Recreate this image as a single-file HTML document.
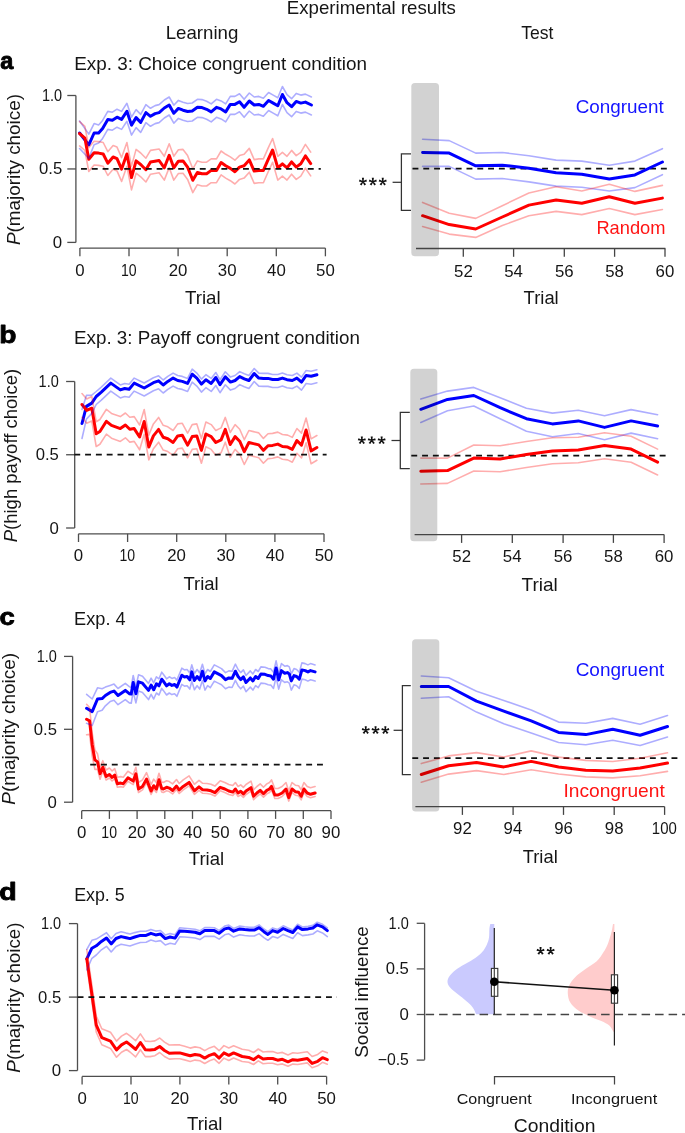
<!DOCTYPE html>
<html><head><meta charset="utf-8"><style>
html,body{margin:0;padding:0;background:#fff;}
svg{display:block;font-family:"Liberation Sans",sans-serif;will-change:transform;}
</style></head><body>
<svg width="685" height="1133" viewBox="0 0 685 1133">
<rect width="685" height="1133" fill="#fff"/>
<text transform="translate(286.77,13.9) scale(1.0377,1)" font-size="18" font-weight="normal" fill="#151515">Experimental results</text>
<text transform="translate(165.67,38.7) scale(1.0441,1)" font-size="17.9" font-weight="normal" fill="#151515">Learning</text>
<text transform="translate(521.31,38.7) scale(0.9802,1)" font-size="17.9" font-weight="normal" fill="#151515">Test</text>
<text transform="translate(0.36,68.62) scale(0.2344,0.2355)" font-size="100" font-weight="bold" fill="#000" stroke="#000" stroke-width="3.831" stroke-linejoin="round">a</text>
<text transform="translate(74.15,69.9) scale(1.0553,1)" font-size="17.9" font-weight="normal" fill="#151515">Exp. 3: Choice congruent condition</text>
<line x1="75.9" y1="95.5" x2="75.9" y2="242.4" stroke="#4e4e4e" stroke-width="1.3"/>
<line x1="67.3" y1="95.5" x2="75.9" y2="95.5" stroke="#4e4e4e" stroke-width="1.3"/>
<line x1="67.3" y1="168.95" x2="75.9" y2="168.95" stroke="#4e4e4e" stroke-width="1.3"/>
<line x1="67.3" y1="242.4" x2="75.9" y2="242.4" stroke="#4e4e4e" stroke-width="1.3"/>
<line x1="79.9" y1="248.1" x2="325.4" y2="248.1" stroke="#4e4e4e" stroke-width="1.3"/>
<line x1="79.9" y1="248.1" x2="79.9" y2="256.3" stroke="#4e4e4e" stroke-width="1.3"/>
<text transform="translate(75.23,276) scale(1.0377,1)" font-size="16.2" font-weight="normal" fill="#151515">0</text>
<line x1="129" y1="248.1" x2="129" y2="256.3" stroke="#4e4e4e" stroke-width="1.3"/>
<text transform="translate(120.91,276) scale(0.8685,1)" font-size="16.2" font-weight="normal" fill="#151515">10</text>
<line x1="178.1" y1="248.1" x2="178.1" y2="256.3" stroke="#4e4e4e" stroke-width="1.3"/>
<text transform="translate(168.66,276) scale(1.0377,1)" font-size="16.2" font-weight="normal" fill="#151515">20</text>
<line x1="227.2" y1="248.1" x2="227.2" y2="256.3" stroke="#4e4e4e" stroke-width="1.3"/>
<text transform="translate(217.86,276) scale(1.0377,1)" font-size="16.2" font-weight="normal" fill="#151515">30</text>
<line x1="276.3" y1="248.1" x2="276.3" y2="256.3" stroke="#4e4e4e" stroke-width="1.3"/>
<text transform="translate(267.09,276) scale(1.0377,1)" font-size="16.2" font-weight="normal" fill="#151515">40</text>
<line x1="325.4" y1="248.1" x2="325.4" y2="256.3" stroke="#4e4e4e" stroke-width="1.3"/>
<text transform="translate(316.04,276) scale(1.0377,1)" font-size="16.2" font-weight="normal" fill="#151515">50</text>
<text transform="translate(41.92,101) scale(0.8948,1)" font-size="16.2" font-weight="normal" fill="#151515">1.0</text>
<text transform="translate(39,174.45) scale(1.0302,1)" font-size="16.2" font-weight="normal" fill="#151515">0.5</text>
<text transform="translate(52.81,247.9) scale(1.0377,1)" font-size="16.2" font-weight="normal" fill="#151515">0</text>
<polyline points="79.6,133.0 88.8,144.8 94.1,133.0 98.6,133.0 102.6,128.4 107.8,119.4 112.4,120.2 117.0,117.2 121.6,119.4 126.9,111.3 131.5,125.1 136.1,117.6 140.7,122.4 145.9,112.6 150.5,116.3 155.1,113.6 159.1,112.6 164.3,108.0 169.2,105.0 173.8,113.2 178.4,108.4 183.0,110.2 187.6,111.5 192.2,111.0 197.4,107.3 202.0,107.6 206.6,109.3 211.2,111.9 216.5,107.3 221.1,108.9 225.7,111.9 230.3,104.4 234.9,104.4 239.5,101.8 244.1,107.3 249.3,101.0 254.2,105.0 258.8,104.4 263.4,106.3 268.6,100.5 273.2,103.1 277.8,105.8 282.4,94.5 287.0,102.7 291.6,106.7 296.2,101.4 300.8,103.1 305.4,102.1 311.4,105.0" fill="none" stroke="#0000ff" stroke-width="3.0" stroke-linejoin="round" stroke-linecap="round"/>
<polyline points="79.6,133.6 84.9,138.2 88.8,159.2 94.1,152.7 98.6,153.1 103.2,154.0 107.8,163.2 113.1,157.0 117.0,158.6 121.6,169.1 126.9,154.0 131.5,177.6 136.1,160.9 140.7,164.5 145.9,169.7 150.5,161.9 159.1,160.5 164.3,167.8 169.2,155.3 173.8,167.8 178.4,161.2 183.0,160.9 187.6,167.1 192.8,180.3 197.4,172.4 202.0,173.7 206.6,173.7 211.2,170.4 216.5,170.4 221.1,162.5 225.7,165.8 230.3,168.4 234.9,171.7 239.5,167.1 244.1,165.8 249.3,159.9 254.2,171.1 258.8,170.4 263.4,170.4 268.0,159.9 272.6,150.0 277.8,167.8 282.4,163.8 287.0,167.8 291.6,161.9 296.2,167.1 300.8,163.8 305.4,155.9 310.7,163.6" fill="none" stroke="#ff0000" stroke-width="3.0" stroke-linejoin="round" stroke-linecap="round"/>
<polyline points="79.6,121.0 88.8,134.1 94.1,123.6 98.6,125.0 102.6,120.4 107.8,111.4 112.4,112.2 117.0,109.2 121.6,111.4 126.9,103.3 131.5,117.1 136.1,109.6 140.7,114.4 145.9,104.6 150.5,108.3 155.1,105.6 159.1,104.6 164.3,100.0 169.2,97.0 173.8,105.2 178.4,100.4 183.0,102.2 187.6,103.5 192.2,103.0 197.4,99.3 202.0,99.6 206.6,101.3 211.2,103.9 216.5,99.3 221.1,100.9 225.7,103.9 230.3,96.4 234.9,96.4 239.5,93.8 244.1,99.3 249.3,93.0 254.2,97.0 258.8,96.4 263.4,98.3 268.6,92.5 273.2,95.1 277.8,97.8 282.4,86.5 287.0,94.7 291.6,98.7 296.2,93.4 300.8,95.1 305.4,94.1 311.4,97.0" fill="none" stroke="#0000ff" stroke-width="1.6" stroke-linejoin="round" stroke-linecap="round" stroke-opacity="0.32"/>
<polyline points="79.6,148.5 88.8,158.4 94.1,144.8 98.6,143.0 102.6,138.4 107.8,129.4 112.4,130.2 117.0,127.2 121.6,129.4 126.9,121.3 131.5,135.1 136.1,127.6 140.7,132.4 145.9,122.6 150.5,126.3 155.1,123.6 159.1,122.6 164.3,118.0 169.2,115.0 173.8,123.2 178.4,118.4 183.0,120.2 187.6,121.5 192.2,121.0 197.4,117.3 202.0,117.6 206.6,119.3 211.2,121.9 216.5,117.3 221.1,118.9 225.7,121.9 230.3,114.4 234.9,114.4 239.5,111.8 244.1,117.3 249.3,111.0 254.2,115.0 258.8,114.4 263.4,116.3 268.6,110.5 273.2,113.1 277.8,115.8 282.4,104.5 287.0,112.7 291.6,116.7 296.2,111.4 300.8,113.1 305.4,112.1 311.4,115.0" fill="none" stroke="#0000ff" stroke-width="1.6" stroke-linejoin="round" stroke-linecap="round" stroke-opacity="0.32"/>
<polyline points="79.6,121.6 84.9,126.4 88.8,147.6 94.1,141.2 98.6,141.6 103.2,142.5 107.8,151.7 113.1,145.5 117.0,147.1 121.6,157.6 126.9,142.5 131.5,166.1 136.1,149.4 140.7,153.0 145.9,158.2 150.5,150.4 159.1,149.0 164.3,156.3 169.2,143.8 173.8,156.3 178.4,149.7 183.0,149.4 187.6,155.6 192.8,168.8 197.4,160.9 202.0,162.2 206.6,162.2 211.2,158.9 216.5,158.9 221.1,151.0 225.7,154.3 230.3,156.9 234.9,160.2 239.5,155.6 244.1,154.3 249.3,148.4 254.2,159.6 258.8,158.9 263.4,158.9 268.0,148.4 272.6,138.5 277.8,156.3 282.4,152.3 287.0,156.3 291.6,150.4 296.2,155.6 300.8,152.3 305.4,144.4 310.7,152.1" fill="none" stroke="#ff0000" stroke-width="1.6" stroke-linejoin="round" stroke-linecap="round" stroke-opacity="0.32"/>
<polyline points="79.6,145.9 84.9,150.5 88.8,171.5 94.1,165.0 98.6,165.4 103.2,166.3 107.8,175.5 113.1,169.3 117.0,170.9 121.6,181.4 126.9,166.3 131.5,189.9 136.1,173.2 140.7,176.8 145.9,182.0 150.5,174.2 159.1,172.8 164.3,180.1 169.2,167.6 173.8,180.1 178.4,173.5 183.0,173.2 187.6,179.4 192.8,192.6 197.4,184.7 202.0,186.0 206.6,186.0 211.2,182.7 216.5,182.7 221.1,174.8 225.7,178.1 230.3,180.7 234.9,184.0 239.5,179.4 244.1,178.1 249.3,172.2 254.2,183.4 258.8,182.7 263.4,182.7 268.0,172.2 272.6,162.3 277.8,180.1 282.4,176.1 287.0,180.1 291.6,174.2 296.2,179.4 300.8,176.1 305.4,168.2 310.7,175.9" fill="none" stroke="#ff0000" stroke-width="1.6" stroke-linejoin="round" stroke-linecap="round" stroke-opacity="0.32"/>
<line x1="81" y1="168.9" x2="320.8" y2="168.9" stroke="#111" stroke-width="1.7" stroke-dasharray="5.9 4.9"/>
<text transform="translate(184.88,303.6) scale(1.0308,1)" font-size="18.2" font-weight="normal" fill="#151515">Trial</text>
<text transform="translate(19.8,245.05) rotate(-90) scale(1.0492,1)" font-size="18" fill="#151515"><tspan font-style="italic">P</tspan><tspan>(majority choice)</tspan></text>
<line x1="412.5" y1="168.6" x2="667.7" y2="168.6" stroke="#111" stroke-width="1.7" stroke-dasharray="5.9 4.9"/>
<polyline points="422.6,152.5 449.2,153.1 475.7,165.8 502.3,165.2 528.9,168.3 556.1,172.8 581.8,174.3 609.3,179.1 634.9,174.9 662.4,162.0" fill="none" stroke="#0000ff" stroke-width="3.0" stroke-linejoin="round" stroke-linecap="round"/>
<polyline points="422.6,215.7 449.2,224.6 475.7,229.0 502.3,217.0 528.9,205.1 556.1,200.0 581.8,203.2 609.3,196.7 634.9,203.2 662.4,198.1" fill="none" stroke="#ff0000" stroke-width="3.0" stroke-linejoin="round" stroke-linecap="round"/>
<polyline points="422.6,139.2 449.2,140.6 475.7,153.1 502.3,152.5 528.9,155.7 556.1,160.1 581.8,161.1 609.3,165.2 634.9,161.1 662.4,148.7" fill="none" stroke="#0000ff" stroke-width="1.6" stroke-linejoin="round" stroke-linecap="round" stroke-opacity="0.32"/>
<polyline points="422.6,166.4 449.2,166.4 475.7,179.1 502.3,178.5 528.9,181.9 556.1,186.1 581.8,187.3 609.3,191.0 634.9,187.6 662.4,174.7" fill="none" stroke="#0000ff" stroke-width="1.6" stroke-linejoin="round" stroke-linecap="round" stroke-opacity="0.32"/>
<polyline points="422.6,202.4 449.2,213.3 475.7,218.4 502.3,205.7 528.9,193.0 556.1,186.7 581.8,191.0 609.3,184.2 634.9,191.4 662.4,185.4" fill="none" stroke="#ff0000" stroke-width="1.6" stroke-linejoin="round" stroke-linecap="round" stroke-opacity="0.32"/>
<polyline points="422.6,226.5 449.2,234.1 475.7,237.4 502.3,225.6 528.9,215.7 556.1,211.4 581.8,214.6 609.3,208.5 634.9,214.6 662.4,209.5" fill="none" stroke="#ff0000" stroke-width="1.6" stroke-linejoin="round" stroke-linecap="round" stroke-opacity="0.32"/>
<rect x="411.3" y="83" width="27.7" height="173.3" rx="3.6" fill="#000" fill-opacity="0.175"/>
<line x1="416" y1="248.5" x2="665.4" y2="248.5" stroke="#444" stroke-width="1.3"/>
<line x1="463.3" y1="248.5" x2="463.3" y2="256.8" stroke="#444" stroke-width="1.3"/>
<text transform="translate(454.04,276.5) scale(1.0377,1)" font-size="16.2" font-weight="normal" fill="#151515">52</text>
<line x1="513.6" y1="248.5" x2="513.6" y2="256.8" stroke="#444" stroke-width="1.3"/>
<text transform="translate(504.16,276.5) scale(1.0377,1)" font-size="16.2" font-weight="normal" fill="#151515">54</text>
<line x1="564.3" y1="248.5" x2="564.3" y2="256.8" stroke="#444" stroke-width="1.3"/>
<text transform="translate(554.98,276.5) scale(1.0377,1)" font-size="16.2" font-weight="normal" fill="#151515">56</text>
<line x1="614.6" y1="248.5" x2="614.6" y2="256.8" stroke="#444" stroke-width="1.3"/>
<text transform="translate(605.28,276.5) scale(1.0377,1)" font-size="16.2" font-weight="normal" fill="#151515">58</text>
<line x1="665" y1="248.5" x2="665" y2="256.8" stroke="#444" stroke-width="1.3"/>
<text transform="translate(655.55,276.5) scale(1.0377,1)" font-size="16.2" font-weight="normal" fill="#151515">60</text>
<polyline points="411,153.8 401.4,153.8 401.4,210.4 411,210.4" fill="none" stroke="#333" stroke-width="1.25"/>
<line x1="392.6" y1="182.3" x2="401.4" y2="182.3" stroke="#333" stroke-width="1.25"/>
<path d="M363.50,181.75L364.00,177.85L361.90,177.85L362.40,181.75ZM363.12,182.27L366.98,181.54L366.33,179.55L362.78,181.23ZM362.51,182.07L364.39,185.52L366.09,184.29L363.39,181.43ZM362.51,181.43L359.81,184.29L361.51,185.52L363.39,182.07ZM363.12,181.23L359.57,179.55L358.92,181.54L362.78,182.27Z" fill="#111"/>
<path d="M373.40,181.75L373.90,177.85L371.80,177.85L372.30,181.75ZM373.02,182.27L376.88,181.54L376.23,179.55L372.68,181.23ZM372.41,182.07L374.29,185.52L375.99,184.29L373.29,181.43ZM372.41,181.43L369.71,184.29L371.41,185.52L373.29,182.07ZM373.02,181.23L369.47,179.55L368.82,181.54L372.68,182.27Z" fill="#111"/>
<path d="M383.30,181.75L383.80,177.85L381.70,177.85L382.20,181.75ZM382.92,182.27L386.78,181.54L386.13,179.55L382.58,181.23ZM382.31,182.07L384.19,185.52L385.89,184.29L383.19,181.43ZM382.31,181.43L379.61,184.29L381.31,185.52L383.19,182.07ZM382.92,181.23L379.37,179.55L378.72,181.54L382.58,182.27Z" fill="#111"/>
<text transform="translate(575.64,113.3) scale(1.0551,1)" font-size="17.9" font-weight="normal" fill="#1414ff">Congruent</text>
<text transform="translate(596.4,234.1) scale(1.0214,1)" font-size="17.9" font-weight="normal" fill="#ff1414">Random</text>
<text transform="translate(523.59,304) scale(1.0130,1)" font-size="18.2" font-weight="normal" fill="#151515">Trial</text>
<text transform="translate(-0.71,343.41) scale(0.2818,0.2465)" font-size="100" font-weight="bold" fill="#000" stroke="#000" stroke-width="3.407" stroke-linejoin="round">b</text>
<text transform="translate(74.06,344.4) scale(1.0503,1)" font-size="17.9" font-weight="normal" fill="#151515">Exp. 3: Payoff congruent condition</text>
<line x1="74.7" y1="381.5" x2="74.7" y2="528" stroke="#4e4e4e" stroke-width="1.3"/>
<line x1="66.1" y1="381.5" x2="74.7" y2="381.5" stroke="#4e4e4e" stroke-width="1.3"/>
<line x1="66.1" y1="454.75" x2="74.7" y2="454.75" stroke="#4e4e4e" stroke-width="1.3"/>
<line x1="66.1" y1="528" x2="74.7" y2="528" stroke="#4e4e4e" stroke-width="1.3"/>
<line x1="78.5" y1="533.8" x2="324" y2="533.8" stroke="#4e4e4e" stroke-width="1.3"/>
<line x1="78.5" y1="533.8" x2="78.5" y2="542" stroke="#4e4e4e" stroke-width="1.3"/>
<text transform="translate(73.83,561.3) scale(1.0377,1)" font-size="16.2" font-weight="normal" fill="#151515">0</text>
<line x1="127.6" y1="533.8" x2="127.6" y2="542" stroke="#4e4e4e" stroke-width="1.3"/>
<text transform="translate(119.51,561.3) scale(0.8685,1)" font-size="16.2" font-weight="normal" fill="#151515">10</text>
<line x1="176.7" y1="533.8" x2="176.7" y2="542" stroke="#4e4e4e" stroke-width="1.3"/>
<text transform="translate(167.26,561.3) scale(1.0377,1)" font-size="16.2" font-weight="normal" fill="#151515">20</text>
<line x1="225.8" y1="533.8" x2="225.8" y2="542" stroke="#4e4e4e" stroke-width="1.3"/>
<text transform="translate(216.46,561.3) scale(1.0377,1)" font-size="16.2" font-weight="normal" fill="#151515">30</text>
<line x1="274.9" y1="533.8" x2="274.9" y2="542" stroke="#4e4e4e" stroke-width="1.3"/>
<text transform="translate(265.69,561.3) scale(1.0377,1)" font-size="16.2" font-weight="normal" fill="#151515">40</text>
<line x1="324" y1="533.8" x2="324" y2="542" stroke="#4e4e4e" stroke-width="1.3"/>
<text transform="translate(314.64,561.3) scale(1.0377,1)" font-size="16.2" font-weight="normal" fill="#151515">50</text>
<text transform="translate(38.62,387) scale(0.8948,1)" font-size="16.2" font-weight="normal" fill="#151515">1.0</text>
<text transform="translate(35.7,460.25) scale(1.0302,1)" font-size="16.2" font-weight="normal" fill="#151515">0.5</text>
<text transform="translate(49.51,533.5) scale(1.0377,1)" font-size="16.2" font-weight="normal" fill="#151515">0</text>
<polyline points="82.0,423.5 86.4,406.4 91.8,403.1 96.2,396.5 101.3,392.1 110.8,383.1 120.3,389.9 124.7,388.5 129.1,389.2 134.2,383.1 144.2,388.0 153.4,382.7 158.6,380.8 163.2,385.0 167.8,381.4 173.1,378.1 177.7,380.5 182.3,381.4 187.6,383.4 192.2,374.2 196.8,378.1 201.4,384.1 205.9,379.7 211.2,383.4 215.8,377.5 220.0,384.7 225.3,376.8 230.5,382.1 235.1,380.5 239.7,376.6 244.3,378.8 248.9,380.5 254.2,373.5 258.8,378.1 263.4,378.4 268.0,378.4 272.6,379.5 277.8,379.5 282.4,378.1 287.0,379.7 292.3,380.5 296.9,378.1 301.5,382.1 306.1,375.5 311.1,376.2 316.9,374.7" fill="none" stroke="#0000ff" stroke-width="3.0" stroke-linejoin="round" stroke-linecap="round"/>
<polyline points="82.0,404.5 86.7,410.4 91.8,408.2 96.2,433.7 99.9,431.5 106.4,421.3 111.5,425.4 120.3,428.6 125.4,425.0 129.8,429.3 134.2,428.6 139.6,437.0 144.2,421.5 148.8,447.1 153.4,435.9 158.6,429.4 163.2,437.3 167.8,438.8 173.1,442.5 177.7,435.9 182.3,435.3 187.6,445.1 192.2,436.6 196.8,435.9 201.4,450.4 205.9,434.0 211.2,436.6 215.8,442.5 221.1,439.9 225.3,429.4 230.2,444.5 235.1,436.6 239.7,441.2 244.3,451.7 248.9,442.5 253.5,443.6 258.8,444.9 263.4,450.4 268.0,445.8 272.6,445.4 277.8,444.1 282.4,446.5 287.7,447.1 292.3,449.4 296.9,440.5 301.5,445.1 306.1,430.0 311.1,450.9 316.9,447.5" fill="none" stroke="#ff0000" stroke-width="3.0" stroke-linejoin="round" stroke-linecap="round"/>
<polyline points="82.0,409.5 86.4,395.4 91.8,395.1 96.2,391.5 101.3,387.1 110.8,378.1 120.3,384.9 124.7,383.5 129.1,384.2 134.2,378.1 144.2,383.0 153.4,377.7 158.6,375.8 163.2,380.0 167.8,376.4 173.1,373.1 177.7,375.5 182.3,376.4 187.6,378.4 192.2,369.2 196.8,373.1 201.4,379.1 205.9,374.7 211.2,378.4 215.8,372.5 220.0,379.7 225.3,371.8 230.5,377.1 235.1,375.5 239.7,371.6 244.3,373.8 248.9,375.5 254.2,368.5 258.8,373.1 263.4,373.4 268.0,373.4 272.6,374.5 277.8,374.5 282.4,373.1 287.0,374.7 292.3,375.5 296.9,373.1 301.5,377.1 306.1,370.5 311.1,371.2 316.9,369.7" fill="none" stroke="#0000ff" stroke-width="1.6" stroke-linejoin="round" stroke-linecap="round" stroke-opacity="0.32"/>
<polyline points="82.0,438.5 86.4,419.1 91.8,413.4 96.2,404.5 101.3,400.1 110.8,391.1 120.3,397.9 124.7,396.5 129.1,397.2 134.2,391.1 144.2,396.0 153.4,390.7 158.6,388.8 163.2,393.0 167.8,389.4 173.1,386.1 177.7,388.5 182.3,389.4 187.6,391.4 192.2,382.2 196.8,386.1 201.4,392.1 205.9,387.7 211.2,391.4 215.8,385.5 220.0,392.7 225.3,384.8 230.5,390.1 235.1,388.5 239.7,384.6 244.3,386.8 248.9,388.5 254.2,381.5 258.8,386.1 263.4,386.4 268.0,386.4 272.6,387.5 277.8,387.5 282.4,386.1 287.0,387.7 292.3,388.5 296.9,386.1 301.5,390.1 306.1,383.5 311.1,384.2 316.9,382.7" fill="none" stroke="#0000ff" stroke-width="1.6" stroke-linejoin="round" stroke-linecap="round" stroke-opacity="0.32"/>
<polyline points="82.0,393.5 86.7,399.0 91.8,396.5 96.2,421.7 99.9,419.5 106.4,409.3 111.5,413.4 120.3,416.6 125.4,413.0 129.8,417.3 134.2,416.6 139.6,425.0 144.2,409.5 148.8,435.1 153.4,423.9 158.6,417.4 163.2,425.3 167.8,426.8 173.1,430.5 177.7,423.9 182.3,423.3 187.6,433.1 192.2,424.6 196.8,423.9 201.4,438.4 205.9,422.0 211.2,424.6 215.8,430.5 221.1,427.9 225.3,417.4 230.2,432.5 235.1,424.6 239.7,429.2 244.3,439.7 248.9,430.5 253.5,431.6 258.8,432.9 263.4,438.4 268.0,433.8 272.6,433.4 277.8,432.1 282.4,434.5 287.7,435.1 292.3,437.4 296.9,428.5 301.5,433.1 306.1,418.0 311.1,438.9 316.9,435.5" fill="none" stroke="#ff0000" stroke-width="1.6" stroke-linejoin="round" stroke-linecap="round" stroke-opacity="0.32"/>
<polyline points="82.0,417.3 86.7,423.2 91.8,421.0 96.2,446.5 99.9,444.3 106.4,434.1 111.5,438.2 120.3,441.4 125.4,437.8 129.8,442.1 134.2,441.4 139.6,449.8 144.2,434.3 148.8,459.9 153.4,448.7 158.6,442.2 163.2,450.1 167.8,451.6 173.1,455.3 177.7,448.7 182.3,448.1 187.6,457.9 192.2,449.4 196.8,448.7 201.4,463.2 205.9,446.8 211.2,449.4 215.8,455.3 221.1,452.7 225.3,442.2 230.2,457.3 235.1,449.4 239.7,454.0 244.3,464.5 248.9,455.3 253.5,456.4 258.8,457.7 263.4,463.2 268.0,458.6 272.6,458.2 277.8,456.9 282.4,459.3 287.7,459.9 292.3,462.2 296.9,453.3 301.5,457.9 306.1,442.8 311.1,463.7 316.9,460.3" fill="none" stroke="#ff0000" stroke-width="1.6" stroke-linejoin="round" stroke-linecap="round" stroke-opacity="0.32"/>
<line x1="74.3" y1="454.7" x2="326.6" y2="454.7" stroke="#111" stroke-width="1.7" stroke-dasharray="5.9 4.9"/>
<text transform="translate(183.48,589.6) scale(1.0160,1)" font-size="18.2" font-weight="normal" fill="#151515">Trial</text>
<text transform="translate(16.8,542.32) rotate(-90) scale(1.0276,1)" font-size="18" fill="#151515"><tspan font-style="italic">P</tspan><tspan>(high payoff choice)</tspan></text>
<line x1="411.3" y1="455.6" x2="666.8" y2="455.6" stroke="#111" stroke-width="1.7" stroke-dasharray="5.9 4.9"/>
<polyline points="420.8,409.3 447.5,399.4 473.8,395.5 500.1,407.7 526.4,418.7 552.4,423.9 578.3,420.9 604.5,427.4 631.1,420.9 657.6,426.0" fill="none" stroke="#0000ff" stroke-width="3.0" stroke-linejoin="round" stroke-linecap="round"/>
<polyline points="420.8,471.2 447.5,470.6 473.8,458.1 500.1,459.0 526.4,454.6 552.4,451.1 578.3,449.9 604.5,445.4 631.1,449.1 657.6,462.2" fill="none" stroke="#ff0000" stroke-width="3.0" stroke-linejoin="round" stroke-linecap="round"/>
<polyline points="420.8,399.0 447.5,391.1 473.8,387.4 500.1,397.7 526.4,408.2 552.4,413.1 578.3,410.2 604.5,415.8 631.1,409.6 657.6,414.7" fill="none" stroke="#0000ff" stroke-width="1.6" stroke-linejoin="round" stroke-linecap="round" stroke-opacity="0.32"/>
<polyline points="420.8,422.4 447.5,410.8 473.8,406.0 500.1,418.7 526.4,431.2 552.4,436.8 578.3,433.5 604.5,439.7 631.1,433.1 657.6,438.7" fill="none" stroke="#0000ff" stroke-width="1.6" stroke-linejoin="round" stroke-linecap="round" stroke-opacity="0.32"/>
<polyline points="420.8,458.1 447.5,458.1 473.8,445.0 500.1,445.8 526.4,441.5 552.4,437.8 578.3,437.2 604.5,432.7 631.1,436.2 657.6,449.1" fill="none" stroke="#ff0000" stroke-width="1.6" stroke-linejoin="round" stroke-linecap="round" stroke-opacity="0.32"/>
<polyline points="420.8,484.0 447.5,483.4 473.8,471.0 500.1,471.8 526.4,467.5 552.4,463.8 578.3,462.8 604.5,458.7 631.1,462.2 657.6,475.0" fill="none" stroke="#ff0000" stroke-width="1.6" stroke-linejoin="round" stroke-linecap="round" stroke-opacity="0.32"/>
<rect x="410.3" y="368.8" width="27" height="172.5" rx="3.6" fill="#000" fill-opacity="0.175"/>
<line x1="414.6" y1="534.6" x2="664.1" y2="534.6" stroke="#444" stroke-width="1.3"/>
<line x1="461.6" y1="534.6" x2="461.6" y2="542.9" stroke="#444" stroke-width="1.3"/>
<text transform="translate(452.34,562.2) scale(1.0377,1)" font-size="16.2" font-weight="normal" fill="#151515">52</text>
<line x1="512.3" y1="534.6" x2="512.3" y2="542.9" stroke="#444" stroke-width="1.3"/>
<text transform="translate(502.86,562.2) scale(1.0377,1)" font-size="16.2" font-weight="normal" fill="#151515">54</text>
<line x1="563.1" y1="534.6" x2="563.1" y2="542.9" stroke="#444" stroke-width="1.3"/>
<text transform="translate(553.78,562.2) scale(1.0377,1)" font-size="16.2" font-weight="normal" fill="#151515">56</text>
<line x1="613.4" y1="534.6" x2="613.4" y2="542.9" stroke="#444" stroke-width="1.3"/>
<text transform="translate(604.08,562.2) scale(1.0377,1)" font-size="16.2" font-weight="normal" fill="#151515">58</text>
<line x1="664.1" y1="534.6" x2="664.1" y2="542.9" stroke="#444" stroke-width="1.3"/>
<text transform="translate(654.65,562.2) scale(1.0377,1)" font-size="16.2" font-weight="normal" fill="#151515">60</text>
<polyline points="409.8,412.3 400.3,412.3 400.3,468.7 409.8,468.7" fill="none" stroke="#333" stroke-width="1.25"/>
<line x1="391.5" y1="440.5" x2="400.3" y2="440.5" stroke="#333" stroke-width="1.25"/>
<path d="M362.40,440.35L362.90,436.45L360.80,436.45L361.30,440.35ZM362.02,440.87L365.88,440.14L365.23,438.15L361.68,439.83ZM361.41,440.67L363.29,444.12L364.99,442.89L362.29,440.03ZM361.41,440.03L358.71,442.89L360.41,444.12L362.29,440.67ZM362.02,439.83L358.47,438.15L357.82,440.14L361.68,440.87Z" fill="#111"/>
<path d="M372.30,440.35L372.80,436.45L370.70,436.45L371.20,440.35ZM371.92,440.87L375.78,440.14L375.13,438.15L371.58,439.83ZM371.31,440.67L373.19,444.12L374.89,442.89L372.19,440.03ZM371.31,440.03L368.61,442.89L370.31,444.12L372.19,440.67ZM371.92,439.83L368.37,438.15L367.72,440.14L371.58,440.87Z" fill="#111"/>
<path d="M382.20,440.35L382.70,436.45L380.60,436.45L381.10,440.35ZM381.82,440.87L385.68,440.14L385.03,438.15L381.48,439.83ZM381.21,440.67L383.09,444.12L384.79,442.89L382.09,440.03ZM381.21,440.03L378.51,442.89L380.21,444.12L382.09,440.67ZM381.82,439.83L378.27,438.15L377.62,440.14L381.48,440.87Z" fill="#111"/>
<text transform="translate(521.47,590.7) scale(1.0456,1)" font-size="18.2" font-weight="normal" fill="#151515">Trial</text>
<text transform="translate(-0.62,624.82) scale(0.2747,0.2318)" font-size="100" font-weight="bold" fill="#000" stroke="#000" stroke-width="3.554" stroke-linejoin="round">c</text>
<text transform="translate(74.11,624.9) scale(1.0153,1)" font-size="17.9" font-weight="normal" fill="#151515">Exp. 4</text>
<line x1="72.6" y1="656.4" x2="72.6" y2="802.2" stroke="#4e4e4e" stroke-width="1.3"/>
<line x1="64" y1="656.4" x2="72.6" y2="656.4" stroke="#4e4e4e" stroke-width="1.3"/>
<line x1="64" y1="729.3" x2="72.6" y2="729.3" stroke="#4e4e4e" stroke-width="1.3"/>
<line x1="64" y1="802.2" x2="72.6" y2="802.2" stroke="#4e4e4e" stroke-width="1.3"/>
<line x1="81.7" y1="810.7" x2="331" y2="810.7" stroke="#4e4e4e" stroke-width="1.3"/>
<line x1="81.7" y1="810.7" x2="81.7" y2="818.9" stroke="#4e4e4e" stroke-width="1.3"/>
<text transform="translate(77.03,838) scale(1.0377,1)" font-size="16.2" font-weight="normal" fill="#151515">0</text>
<line x1="109.4" y1="810.7" x2="109.4" y2="818.9" stroke="#4e4e4e" stroke-width="1.3"/>
<text transform="translate(101.31,838) scale(0.8685,1)" font-size="16.2" font-weight="normal" fill="#151515">10</text>
<line x1="137.1" y1="810.7" x2="137.1" y2="818.9" stroke="#4e4e4e" stroke-width="1.3"/>
<text transform="translate(127.66,838) scale(1.0377,1)" font-size="16.2" font-weight="normal" fill="#151515">20</text>
<line x1="164.8" y1="810.7" x2="164.8" y2="818.9" stroke="#4e4e4e" stroke-width="1.3"/>
<text transform="translate(155.46,838) scale(1.0377,1)" font-size="16.2" font-weight="normal" fill="#151515">30</text>
<line x1="192.5" y1="810.7" x2="192.5" y2="818.9" stroke="#4e4e4e" stroke-width="1.3"/>
<text transform="translate(183.29,838) scale(1.0377,1)" font-size="16.2" font-weight="normal" fill="#151515">40</text>
<line x1="220.2" y1="810.7" x2="220.2" y2="818.9" stroke="#4e4e4e" stroke-width="1.3"/>
<text transform="translate(210.84,838) scale(1.0377,1)" font-size="16.2" font-weight="normal" fill="#151515">50</text>
<line x1="247.9" y1="810.7" x2="247.9" y2="818.9" stroke="#4e4e4e" stroke-width="1.3"/>
<text transform="translate(238.45,838) scale(1.0377,1)" font-size="16.2" font-weight="normal" fill="#151515">60</text>
<line x1="275.6" y1="810.7" x2="275.6" y2="818.9" stroke="#4e4e4e" stroke-width="1.3"/>
<text transform="translate(266.15,838) scale(1.0377,1)" font-size="16.2" font-weight="normal" fill="#151515">70</text>
<line x1="303.3" y1="810.7" x2="303.3" y2="818.9" stroke="#4e4e4e" stroke-width="1.3"/>
<text transform="translate(293.91,838) scale(1.0377,1)" font-size="16.2" font-weight="normal" fill="#151515">80</text>
<line x1="331" y1="810.7" x2="331" y2="818.9" stroke="#4e4e4e" stroke-width="1.3"/>
<text transform="translate(321.58,838) scale(1.0377,1)" font-size="16.2" font-weight="normal" fill="#151515">90</text>
<text transform="translate(36.72,661.9) scale(0.8948,1)" font-size="16.2" font-weight="normal" fill="#151515">1.0</text>
<text transform="translate(33.8,734.8) scale(1.0302,1)" font-size="16.2" font-weight="normal" fill="#151515">0.5</text>
<text transform="translate(47.61,807.7) scale(1.0377,1)" font-size="16.2" font-weight="normal" fill="#151515">0</text>
<polyline points="86.6,708.3 92.2,711.6 97.5,699.0 102.1,698.6 105.4,695.5 110.1,692.4 114.0,691.1 118.0,695.5 125.3,690.4 129.3,693.7 131.2,694.1 133.2,682.5 135.9,693.7 138.5,681.8 142.5,683.2 148.5,690.4 151.1,685.1 153.7,689.8 156.4,683.8 159.0,685.8 161.7,679.2 163.3,681.2 166.6,685.8 169.3,683.8 171.9,685.4 174.6,684.5 176.9,687.1 181.8,675.2 184.5,676.9 187.1,676.5 189.8,679.9 191.8,671.9 194.4,680.5 197.1,676.5 199.7,679.9 202.4,671.2 205.0,680.9 207.6,676.5 210.3,678.5 214.3,671.9 218.2,673.9 221.5,675.6 225.5,679.6 228.8,677.9 232.1,678.3 235.4,671.2 238.1,676.5 240.7,679.6 243.4,676.9 246.0,682.5 250.3,677.9 252.9,680.9 255.6,676.5 258.2,678.5 260.9,673.9 264.9,674.3 268.2,675.6 270.8,675.9 273.5,679.2 276.1,667.9 278.7,679.9 281.4,670.6 284.7,673.2 287.4,672.6 289.3,673.9 291.3,680.9 294.0,675.6 296.6,676.5 299.3,679.2 301.9,669.9 305.2,670.6 307.9,671.9 310.5,670.6 315.1,671.9" fill="none" stroke="#0000ff" stroke-width="3.0" stroke-linejoin="round" stroke-linecap="round"/>
<polyline points="86.6,719.3 89.6,720.9 92.2,744.7 94.9,759.9 97.5,761.9 100.1,773.8 102.8,767.2 106.1,776.5 109.4,774.5 112.1,777.5 114.7,775.1 117.4,783.7 120.7,783.1 123.3,783.7 127.9,777.8 133.2,781.1 135.9,773.8 138.5,789.0 142.5,786.4 146.5,779.1 151.1,791.0 153.7,785.7 156.4,789.0 159.0,779.8 161.7,788.4 163.3,789.0 166.6,787.3 169.3,788.1 172.6,790.4 176.5,786.0 179.2,790.0 183.2,786.4 189.1,782.4 194.4,790.8 199.0,786.8 202.4,789.7 207.0,790.0 211.0,790.8 214.9,792.6 220.2,787.3 224.8,789.0 228.8,791.0 232.8,792.1 235.4,789.0 238.1,793.0 240.7,791.3 243.4,793.9 246.0,791.0 251.0,787.7 253.6,796.3 256.9,793.0 260.2,790.4 263.5,793.7 266.8,790.4 269.5,789.0 271.5,786.4 274.8,795.0 278.1,795.0 282.1,793.0 286.0,789.0 288.7,797.6 292.0,789.0 295.3,791.7 298.6,792.3 301.2,796.3 303.9,789.0 307.2,793.0 310.5,794.3 315.1,793.0" fill="none" stroke="#ff0000" stroke-width="3.0" stroke-linejoin="round" stroke-linecap="round"/>
<polyline points="86.6,694.3 92.2,699.0 97.5,687.8 102.1,688.8 105.4,687.1 110.1,685.4 114.0,684.1 118.0,688.5 125.3,683.4 129.3,686.7 131.2,687.1 133.2,675.5 135.9,686.7 138.5,674.8 142.5,676.2 148.5,683.4 151.1,678.1 153.7,682.8 156.4,676.8 159.0,678.8 161.7,672.2 163.3,674.2 166.6,678.8 169.3,676.8 171.9,678.4 174.6,677.5 176.9,680.1 181.8,668.2 184.5,669.9 187.1,669.5 189.8,672.9 191.8,664.9 194.4,673.5 197.1,669.5 199.7,672.9 202.4,664.2 205.0,673.9 207.6,669.5 210.3,671.5 214.3,664.9 218.2,666.9 221.5,668.6 225.5,672.6 228.8,670.9 232.1,671.3 235.4,664.2 238.1,669.5 240.7,672.6 243.4,669.9 246.0,675.5 250.3,670.9 252.9,673.9 255.6,669.5 258.2,671.5 260.9,666.9 264.9,667.3 268.2,668.6 270.8,668.9 273.5,672.2 276.1,660.9 278.7,672.9 281.4,663.6 284.7,666.2 287.4,665.6 289.3,666.9 291.3,673.9 294.0,668.6 296.6,669.5 299.3,672.2 301.9,662.9 305.2,663.6 307.9,664.9 310.5,663.6 315.1,664.9" fill="none" stroke="#0000ff" stroke-width="1.6" stroke-linejoin="round" stroke-linecap="round" stroke-opacity="0.32"/>
<polyline points="86.6,723.3 92.2,725.5 97.5,711.7 102.1,710.2 105.4,705.8 110.1,701.6 114.0,700.3 118.0,704.7 125.3,699.6 129.3,702.9 131.2,703.3 133.2,691.7 135.9,702.9 138.5,691.0 142.5,692.4 148.5,699.6 151.1,694.3 153.7,699.0 156.4,693.0 159.0,695.0 161.7,688.4 163.3,690.4 166.6,695.0 169.3,693.0 171.9,694.6 174.6,693.7 176.9,696.3 181.8,684.4 184.5,686.1 187.1,685.7 189.8,689.1 191.8,681.1 194.4,689.7 197.1,685.7 199.7,689.1 202.4,680.4 205.0,690.1 207.6,685.7 210.3,687.7 214.3,681.1 218.2,683.1 221.5,684.8 225.5,688.8 228.8,687.1 232.1,687.5 235.4,680.4 238.1,685.7 240.7,688.8 243.4,686.1 246.0,691.7 250.3,687.1 252.9,690.1 255.6,685.7 258.2,687.7 260.9,683.1 264.9,683.5 268.2,684.8 270.8,685.1 273.5,688.4 276.1,677.1 278.7,689.1 281.4,679.8 284.7,682.4 287.4,681.8 289.3,683.1 291.3,690.1 294.0,684.8 296.6,685.7 299.3,688.4 301.9,679.1 305.2,679.8 307.9,681.1 310.5,679.8 315.1,681.1" fill="none" stroke="#0000ff" stroke-width="1.6" stroke-linejoin="round" stroke-linecap="round" stroke-opacity="0.32"/>
<polyline points="86.6,704.3 89.6,707.6 92.2,733.1 94.9,750.0 97.5,753.7 100.1,767.3 102.8,760.7 106.1,770.0 109.4,768.0 112.1,771.0 114.7,768.6 117.4,777.2 120.7,776.6 123.3,777.2 127.9,771.3 133.2,774.6 135.9,767.3 138.5,782.5 142.5,779.9 146.5,772.6 151.1,784.5 153.7,779.2 156.4,782.5 159.0,773.3 161.7,781.9 163.3,782.5 166.6,780.8 169.3,781.6 172.6,783.9 176.5,779.5 179.2,783.5 183.2,779.9 189.1,775.9 194.4,784.3 199.0,780.3 202.4,783.2 207.0,783.5 211.0,784.3 214.9,786.1 220.2,780.8 224.8,782.5 228.8,784.5 232.8,785.6 235.4,782.5 238.1,786.5 240.7,784.8 243.4,787.4 246.0,784.5 251.0,781.2 253.6,789.8 256.9,786.5 260.2,783.9 263.5,787.2 266.8,783.9 269.5,782.5 271.5,779.9 274.8,788.5 278.1,788.5 282.1,786.5 286.0,782.5 288.7,791.1 292.0,782.5 295.3,785.2 298.6,785.8 301.2,789.8 303.9,782.5 307.2,786.5 310.5,787.8 315.1,786.5" fill="none" stroke="#ff0000" stroke-width="1.6" stroke-linejoin="round" stroke-linecap="round" stroke-opacity="0.32"/>
<polyline points="86.6,734.8 89.6,734.4 92.2,756.2 94.9,769.4 97.5,769.4 100.1,779.3 102.8,770.7 106.1,780.0 109.4,778.0 112.1,781.0 114.7,778.6 117.4,787.2 120.7,786.6 123.3,787.2 127.9,781.3 133.2,784.6 135.9,777.3 138.5,792.5 142.5,789.9 146.5,782.6 151.1,794.5 153.7,789.2 156.4,792.5 159.0,783.3 161.7,791.9 163.3,792.5 166.6,790.8 169.3,791.6 172.6,793.9 176.5,789.5 179.2,793.5 183.2,789.9 189.1,785.9 194.4,794.3 199.0,790.3 202.4,793.2 207.0,793.5 211.0,794.3 214.9,796.1 220.2,790.8 224.8,792.5 228.8,794.5 232.8,795.6 235.4,792.5 238.1,796.5 240.7,794.8 243.4,797.4 246.0,794.5 251.0,791.2 253.6,799.8 256.9,796.5 260.2,793.9 263.5,797.2 266.8,793.9 269.5,792.5 271.5,789.9 274.8,798.5 278.1,798.5 282.1,796.5 286.0,792.5 288.7,801.1 292.0,792.5 295.3,795.2 298.6,795.8 301.2,799.8 303.9,792.5 307.2,796.5 310.5,797.8 315.1,796.5" fill="none" stroke="#ff0000" stroke-width="1.6" stroke-linejoin="round" stroke-linecap="round" stroke-opacity="0.32"/>
<line x1="90.2" y1="764.6" x2="323.7" y2="764.6" stroke="#111" stroke-width="1.7" stroke-dasharray="5.9 4.9"/>
<text transform="translate(188.78,864.9) scale(1.0189,1)" font-size="18.2" font-weight="normal" fill="#151515">Trial</text>
<text transform="translate(14.6,804.76) rotate(-90) scale(1.0548,1)" font-size="18" fill="#151515"><tspan font-style="italic">P</tspan><tspan>(majority choice)</tspan></text>
<line x1="412.3" y1="758.1" x2="678.4" y2="758.1" stroke="#111" stroke-width="1.7" stroke-dasharray="5.9 4.9"/>
<polyline points="421.3,686.5 448.6,686.5 476.5,701.2 503.8,711.2 531.2,720.9 558.6,732.4 585.8,734.6 612.7,729.3 640.1,735.2 667.5,726.5" fill="none" stroke="#0000ff" stroke-width="3.0" stroke-linejoin="round" stroke-linecap="round"/>
<polyline points="421.3,774.5 448.6,765.8 476.5,762.5 503.8,766.9 531.2,761.4 558.6,767.0 585.8,770.3 612.7,770.9 640.1,768.1 667.5,763.1" fill="none" stroke="#ff0000" stroke-width="3.0" stroke-linejoin="round" stroke-linecap="round"/>
<polyline points="421.3,676.0 448.6,677.7 476.5,691.3 503.8,700.5 531.2,709.9 558.6,722.1 585.8,723.2 612.7,718.4 640.1,724.3 667.5,715.5" fill="none" stroke="#0000ff" stroke-width="1.6" stroke-linejoin="round" stroke-linecap="round" stroke-opacity="0.32"/>
<polyline points="421.3,698.3 448.6,696.8 476.5,712.1 503.8,723.7 531.2,732.9 558.6,742.5 585.8,744.7 612.7,740.3 640.1,745.5 667.5,737.0" fill="none" stroke="#0000ff" stroke-width="1.6" stroke-linejoin="round" stroke-linecap="round" stroke-opacity="0.32"/>
<polyline points="421.3,763.6 448.6,755.9 476.5,752.6 503.8,757.0 531.2,750.9 558.6,757.1 585.8,760.4 612.7,761.5 640.1,758.2 667.5,752.8" fill="none" stroke="#ff0000" stroke-width="1.6" stroke-linejoin="round" stroke-linecap="round" stroke-opacity="0.32"/>
<polyline points="421.3,782.2 448.6,774.1 476.5,770.6 503.8,774.5 531.2,769.7 558.6,774.0 585.8,776.9 612.7,777.9 640.1,775.8 667.5,771.4" fill="none" stroke="#ff0000" stroke-width="1.6" stroke-linejoin="round" stroke-linecap="round" stroke-opacity="0.32"/>
<rect x="412.1" y="639.2" width="27.2" height="172.4" rx="3.6" fill="#000" fill-opacity="0.175"/>
<line x1="415.4" y1="806.6" x2="664.6" y2="806.6" stroke="#444" stroke-width="1.3"/>
<line x1="462.4" y1="806.6" x2="462.4" y2="814.9" stroke="#444" stroke-width="1.3"/>
<text transform="translate(453.08,834.3) scale(1.0377,1)" font-size="16.2" font-weight="normal" fill="#151515">92</text>
<line x1="513.1" y1="806.6" x2="513.1" y2="814.9" stroke="#444" stroke-width="1.3"/>
<text transform="translate(503.6,834.3) scale(1.0377,1)" font-size="16.2" font-weight="normal" fill="#151515">94</text>
<line x1="563.5" y1="806.6" x2="563.5" y2="814.9" stroke="#444" stroke-width="1.3"/>
<text transform="translate(554.13,834.3) scale(1.0377,1)" font-size="16.2" font-weight="normal" fill="#151515">96</text>
<line x1="614.2" y1="806.6" x2="614.2" y2="814.9" stroke="#444" stroke-width="1.3"/>
<text transform="translate(604.82,834.3) scale(1.0377,1)" font-size="16.2" font-weight="normal" fill="#151515">98</text>
<line x1="664.6" y1="806.6" x2="664.6" y2="814.9" stroke="#444" stroke-width="1.3"/>
<text transform="translate(651.82,834.3) scale(0.9249,1)" font-size="16.2" font-weight="normal" fill="#151515">100</text>
<polyline points="410.8,685.6 402.4,685.6 402.4,774.5 410.8,774.5" fill="none" stroke="#333" stroke-width="1.25"/>
<line x1="393.6" y1="730.3" x2="402.4" y2="730.3" stroke="#333" stroke-width="1.25"/>
<path d="M366.30,730.25L366.80,726.35L364.70,726.35L365.20,730.25ZM365.92,730.77L369.78,730.04L369.13,728.05L365.58,729.73ZM365.31,730.57L367.19,734.02L368.89,732.79L366.19,729.93ZM365.31,729.93L362.61,732.79L364.31,734.02L366.19,730.57ZM365.92,729.73L362.37,728.05L361.72,730.04L365.58,730.77Z" fill="#111"/>
<path d="M376.10,730.25L376.60,726.35L374.50,726.35L375.00,730.25ZM375.72,730.77L379.58,730.04L378.93,728.05L375.38,729.73ZM375.11,730.57L376.99,734.02L378.69,732.79L375.99,729.93ZM375.11,729.93L372.41,732.79L374.11,734.02L375.99,730.57ZM375.72,729.73L372.17,728.05L371.52,730.04L375.38,730.77Z" fill="#111"/>
<path d="M385.90,730.25L386.40,726.35L384.30,726.35L384.80,730.25ZM385.52,730.77L389.38,730.04L388.73,728.05L385.18,729.73ZM384.91,730.57L386.79,734.02L388.49,732.79L385.79,729.93ZM384.91,729.93L382.21,732.79L383.91,734.02L385.79,730.57ZM385.52,729.73L381.97,728.05L381.32,730.04L385.18,730.77Z" fill="#111"/>
<text transform="translate(575.64,675.5) scale(1.0612,1)" font-size="17.9" font-weight="normal" fill="#1414ff">Congruent</text>
<text transform="translate(563.43,796.6) scale(1.0716,1)" font-size="17.9" font-weight="normal" fill="#ff1414">Incongruent</text>
<text transform="translate(522.69,862.8) scale(1.0101,1)" font-size="18.2" font-weight="normal" fill="#151515">Trial</text>
<text transform="translate(-0.72,899.82) scale(0.2858,0.2369)" font-size="100" font-weight="bold" fill="#000" stroke="#000" stroke-width="3.444" stroke-linejoin="round">d</text>
<text transform="translate(74.14,901.2) scale(0.9974,1)" font-size="17.9" font-weight="normal" fill="#151515">Exp. 5</text>
<line x1="77.5" y1="923.6" x2="77.5" y2="1070.6" stroke="#4e4e4e" stroke-width="1.3"/>
<line x1="68.9" y1="923.6" x2="77.5" y2="923.6" stroke="#4e4e4e" stroke-width="1.3"/>
<line x1="68.9" y1="997.1" x2="77.5" y2="997.1" stroke="#4e4e4e" stroke-width="1.3"/>
<line x1="68.9" y1="1070.6" x2="77.5" y2="1070.6" stroke="#4e4e4e" stroke-width="1.3"/>
<line x1="82.1" y1="1076.4" x2="326.6" y2="1076.4" stroke="#4e4e4e" stroke-width="1.3"/>
<line x1="82.1" y1="1076.4" x2="82.1" y2="1084.6" stroke="#4e4e4e" stroke-width="1.3"/>
<text transform="translate(77.43,1104) scale(1.0377,1)" font-size="16.2" font-weight="normal" fill="#151515">0</text>
<line x1="131" y1="1076.4" x2="131" y2="1084.6" stroke="#4e4e4e" stroke-width="1.3"/>
<text transform="translate(122.91,1104) scale(0.8685,1)" font-size="16.2" font-weight="normal" fill="#151515">10</text>
<line x1="179.9" y1="1076.4" x2="179.9" y2="1084.6" stroke="#4e4e4e" stroke-width="1.3"/>
<text transform="translate(170.46,1104) scale(1.0377,1)" font-size="16.2" font-weight="normal" fill="#151515">20</text>
<line x1="228.8" y1="1076.4" x2="228.8" y2="1084.6" stroke="#4e4e4e" stroke-width="1.3"/>
<text transform="translate(219.46,1104) scale(1.0377,1)" font-size="16.2" font-weight="normal" fill="#151515">30</text>
<line x1="277.7" y1="1076.4" x2="277.7" y2="1084.6" stroke="#4e4e4e" stroke-width="1.3"/>
<text transform="translate(268.49,1104) scale(1.0377,1)" font-size="16.2" font-weight="normal" fill="#151515">40</text>
<line x1="326.6" y1="1076.4" x2="326.6" y2="1084.6" stroke="#4e4e4e" stroke-width="1.3"/>
<text transform="translate(317.24,1104) scale(1.0377,1)" font-size="16.2" font-weight="normal" fill="#151515">50</text>
<text transform="translate(40.92,929.1) scale(0.8948,1)" font-size="16.2" font-weight="normal" fill="#151515">1.0</text>
<text transform="translate(38,1002.6) scale(1.0302,1)" font-size="16.2" font-weight="normal" fill="#151515">0.5</text>
<text transform="translate(51.81,1076.1) scale(1.0377,1)" font-size="16.2" font-weight="normal" fill="#151515">0</text>
<polyline points="86.8,958.9 91.9,948.2 96.3,945.8 101.4,941.4 106.5,938.0 111.2,943.9 116.0,938.5 121.1,936.6 126.2,937.7 130.0,938.6 134.8,937.0 140.4,935.4 146.1,935.4 150.9,933.3 155.7,934.9 160.5,934.1 165.3,938.6 170.1,937.0 175.0,938.1 179.8,930.9 184.6,931.2 190.2,931.7 195.0,932.2 199.9,933.8 204.7,930.6 209.5,930.6 214.3,930.6 219.1,933.3 224.7,928.9 228.8,928.0 233.6,931.2 239.8,928.9 244.6,929.6 249.5,930.1 254.3,930.1 259.1,927.7 263.9,931.7 267.9,934.4 272.7,930.6 277.6,932.2 283.2,928.5 288.0,930.6 292.8,932.5 297.6,926.9 302.4,929.6 308.1,928.9 312.9,928.0 317.2,924.8 322.5,926.9 327.3,930.6" fill="none" stroke="#0000ff" stroke-width="3.0" stroke-linejoin="round" stroke-linecap="round"/>
<polyline points="86.8,958.9 96.3,1025.2 101.8,1037.7 110.5,1041.2 116.5,1049.9 121.5,1044.9 126.5,1042.0 130.0,1044.6 135.6,1049.4 140.4,1042.5 145.3,1049.7 150.1,1050.0 154.9,1049.4 159.7,1046.5 164.5,1050.5 169.3,1053.2 175.0,1052.9 179.8,1052.9 184.6,1054.2 190.2,1055.8 195.0,1054.5 199.9,1055.3 204.7,1058.1 209.5,1055.3 214.3,1053.7 219.1,1058.1 223.9,1052.9 228.8,1055.3 233.6,1052.9 242.2,1056.5 248.7,1057.4 253.5,1059.7 258.3,1056.1 263.1,1059.0 267.9,1058.5 272.7,1058.5 277.6,1060.2 282.4,1059.3 288.0,1061.8 292.8,1059.7 297.6,1060.2 307.3,1058.5 312.1,1063.4 317.7,1061.3 322.5,1057.7 327.3,1059.7" fill="none" stroke="#ff0000" stroke-width="3.0" stroke-linejoin="round" stroke-linecap="round"/>
<polyline points="86.8,949.4 91.9,940.3 96.3,939.1 101.4,935.9 106.5,932.7 111.2,938.7 116.0,933.5 121.1,931.7 126.2,933.1 130.0,934.0 134.8,932.6 140.4,931.2 146.1,931.3 150.9,929.4 155.7,931.1 160.5,930.5 165.3,935.1 170.1,933.6 175.0,934.8 179.8,927.7 184.6,928.2 190.2,928.7 195.0,929.2 199.9,930.8 204.7,927.6 209.5,927.6 214.3,927.7 219.1,930.4 224.7,926.1 228.8,925.1 233.6,928.4 239.8,926.1 244.6,926.8 249.5,927.3 254.3,927.3 259.1,924.9 263.9,929.0 267.9,931.7 272.7,927.9 277.6,929.5 283.2,925.8 288.0,927.9 292.8,929.9 297.6,924.3 302.4,927.0 308.1,926.4 312.9,925.4 317.2,922.2 322.5,924.3 327.3,928.0" fill="none" stroke="#0000ff" stroke-width="1.6" stroke-linejoin="round" stroke-linecap="round" stroke-opacity="0.32"/>
<polyline points="86.8,969.9 91.9,958.3 96.3,955.0 101.4,949.8 106.5,946.3 111.2,952.0 116.0,946.4 121.1,944.3 126.2,945.3 130.0,946.0 134.8,944.2 140.4,942.5 146.1,942.3 150.9,940.1 155.7,941.5 160.5,940.6 165.3,945.0 170.1,943.2 175.0,944.2 179.8,936.8 184.6,937.0 190.2,937.5 195.0,938.0 199.9,939.6 204.7,936.4 209.5,936.4 214.3,936.4 219.1,939.1 224.7,934.8 228.8,933.8 233.6,937.1 239.8,934.8 244.6,935.5 249.5,936.0 254.3,936.0 259.1,933.6 263.9,937.6 267.9,940.3 272.7,936.5 277.6,938.1 283.2,934.4 288.0,936.5 292.8,938.4 297.6,932.8 302.4,935.6 308.1,934.9 312.9,934.0 317.2,930.8 322.5,932.9 327.3,936.6" fill="none" stroke="#0000ff" stroke-width="1.6" stroke-linejoin="round" stroke-linecap="round" stroke-opacity="0.32"/>
<polyline points="86.8,949.9 96.3,1016.2 101.8,1028.8 110.5,1032.3 116.5,1041.1 121.5,1036.1 126.5,1033.3 130.0,1035.9 135.6,1040.7 140.4,1033.9 145.3,1041.1 150.1,1041.5 154.9,1040.9 159.7,1038.0 164.5,1042.1 169.3,1045.0 175.0,1044.8 179.8,1044.9 184.6,1046.3 190.2,1048.1 195.0,1046.9 199.9,1047.8 204.7,1050.6 209.5,1047.9 214.3,1046.3 219.1,1050.7 223.9,1045.6 228.8,1048.0 233.6,1045.7 242.2,1049.3 248.7,1050.3 253.5,1052.5 258.3,1049.0 263.1,1052.0 267.9,1051.5 272.7,1051.6 277.6,1053.2 282.4,1052.4 288.0,1054.9 292.8,1052.8 297.6,1053.3 307.3,1051.7 312.1,1056.5 317.7,1054.4 322.5,1050.9 327.3,1052.8" fill="none" stroke="#ff0000" stroke-width="1.6" stroke-linejoin="round" stroke-linecap="round" stroke-opacity="0.32"/>
<polyline points="86.8,965.9 96.3,1032.3 101.8,1044.8 110.5,1048.4 116.5,1057.2 121.5,1052.2 126.5,1049.5 130.0,1052.0 135.6,1056.9 140.4,1049.7 145.3,1056.6 150.1,1056.6 154.9,1055.7 159.7,1052.5 164.5,1056.5 169.3,1059.1 175.0,1058.7 179.8,1058.7 184.6,1059.9 190.2,1061.4 195.0,1060.1 199.9,1060.8 204.7,1063.5 209.5,1060.7 214.3,1059.1 219.1,1063.3 223.9,1058.1 228.8,1060.5 233.6,1058.0 242.2,1061.5 248.7,1062.3 253.5,1064.5 258.3,1060.9 263.1,1063.8 267.9,1063.2 272.7,1063.2 277.6,1064.7 282.4,1063.9 288.0,1066.2 292.8,1064.1 297.6,1064.5 307.3,1062.9 312.1,1067.8 317.7,1065.8 322.5,1062.3 327.3,1064.2" fill="none" stroke="#ff0000" stroke-width="1.6" stroke-linejoin="round" stroke-linecap="round" stroke-opacity="0.32"/>
<line x1="77.6" y1="997.2" x2="337" y2="997.2" stroke="#111" stroke-width="1.7" stroke-dasharray="5.9 4.9"/>
<text transform="translate(186.98,1130.3) scale(1.0219,1)" font-size="18.2" font-weight="normal" fill="#151515">Trial</text>
<text transform="translate(19.7,1072.64) rotate(-90) scale(1.0435,1)" font-size="18" fill="#151515"><tspan font-style="italic">P</tspan><tspan>(majority choice)</tspan></text>
<path d="M490.30,924.00 C490.15,924.80 489.62,926.53 489.40,928.80 C489.18,931.07 489.43,934.95 489.00,937.60 C488.57,940.25 487.90,942.33 486.80,944.70 C485.70,947.07 484.32,949.58 482.40,951.80 C480.48,954.02 477.95,956.10 475.30,958.00 C472.65,959.90 469.45,961.45 466.50,963.20 C463.55,964.95 460.25,966.58 457.60,968.50 C454.95,970.42 452.28,972.63 450.60,974.70 C448.92,976.77 447.65,978.83 447.50,980.90 C447.35,982.97 448.02,984.90 449.70,987.10 C451.38,989.30 454.80,991.75 457.60,994.10 C460.40,996.45 463.98,998.98 466.50,1001.20 C469.02,1003.42 471.08,1005.22 472.70,1007.40 C474.32,1009.58 475.62,1013.15 476.20,1014.30 L494.3,1014.3 L494.3,924 Z" fill="#cacafe"/>
<path d="M613.00,924.00 C612.77,925.25 612.40,928.35 611.60,931.50 C610.80,934.65 609.53,939.47 608.20,942.90 C606.87,946.33 605.52,949.03 603.60,952.10 C601.68,955.17 599.77,958.43 596.70,961.30 C593.63,964.17 588.83,966.62 585.20,969.30 C581.57,971.98 577.57,974.72 574.90,977.40 C572.23,980.08 570.38,982.73 569.20,985.40 C568.02,988.07 567.62,990.53 567.80,993.40 C567.98,996.27 568.53,999.73 570.30,1002.60 C572.07,1005.47 575.15,1008.30 578.40,1010.60 C581.65,1012.90 585.98,1014.67 589.80,1016.40 C593.62,1018.13 598.05,1019.48 601.30,1021.00 C604.55,1022.52 607.28,1023.70 609.30,1025.50 C611.32,1027.30 612.72,1030.75 613.40,1031.80 L614.4,1032 L614.4,924 Z" fill="#ffcccc"/>
<line x1="425.6" y1="1014.5" x2="685" y2="1014.5" stroke="#444" stroke-width="1.5" stroke-dasharray="8.5 5"/>
<line x1="424.6" y1="923.4" x2="424.6" y2="1059.8" stroke="#4e4e4e" stroke-width="1.3"/>
<line x1="416.7" y1="923.3" x2="424.6" y2="923.3" stroke="#4e4e4e" stroke-width="1.3"/>
<text transform="translate(388.62,928.6) scale(0.8948,1)" font-size="16.2" font-weight="normal" fill="#151515">1.0</text>
<line x1="416.7" y1="968.9" x2="424.6" y2="968.9" stroke="#4e4e4e" stroke-width="1.3"/>
<text transform="translate(385.7,974.2) scale(1.0302,1)" font-size="16.2" font-weight="normal" fill="#151515">0.5</text>
<line x1="416.7" y1="1014.5" x2="424.6" y2="1014.5" stroke="#4e4e4e" stroke-width="1.3"/>
<text transform="translate(399.51,1019.8) scale(1.0377,1)" font-size="16.2" font-weight="normal" fill="#151515">0</text>
<line x1="416.7" y1="1060.1" x2="424.6" y2="1060.1" stroke="#4e4e4e" stroke-width="1.3"/>
<text transform="translate(377.66,1065.4) scale(0.9756,1)" font-size="16.2" font-weight="normal" fill="#151515">−0.5</text>
<line x1="494.3" y1="927.9" x2="494.3" y2="1014.5" stroke="#222" stroke-width="1.2"/>
<line x1="614.4" y1="932" x2="614.4" y2="1045.6" stroke="#222" stroke-width="1.2"/>
<rect x="491.4" y="968.4" width="6.4" height="27.9" fill="#fff" stroke="#333" stroke-width="1.1"/>
<line x1="494.3" y1="968.4" x2="494.3" y2="996.3" stroke="#333" stroke-width="1.1"/>
<rect x="611.4" y="974.8" width="6.2" height="28.4" fill="#fff" stroke="#333" stroke-width="1.1"/>
<line x1="614.4" y1="974.8" x2="614.4" y2="1003.2" stroke="#333" stroke-width="1.1"/>
<line x1="494.3" y1="981.8" x2="614.4" y2="990.2" stroke="#111" stroke-width="1.6"/>
<circle cx="494.3" cy="981.8" r="4.3" fill="#000"/>
<circle cx="614.4" cy="990.2" r="4.3" fill="#000"/>
<path d="M541.10,950.95L541.60,947.05L539.50,947.05L540.00,950.95ZM540.72,951.47L544.58,950.74L543.93,948.75L540.38,950.43ZM540.11,951.27L541.99,954.72L543.69,953.49L540.99,950.63ZM540.11,950.63L537.41,953.49L539.11,954.72L540.99,951.27ZM540.72,950.43L537.17,948.75L536.52,950.74L540.38,951.47Z" fill="#111"/>
<path d="M551.20,950.95L551.70,947.05L549.60,947.05L550.10,950.95ZM550.82,951.47L554.68,950.74L554.03,948.75L550.48,950.43ZM550.21,951.27L552.09,954.72L553.79,953.49L551.09,950.63ZM550.21,950.63L547.51,953.49L549.21,954.72L551.09,951.27ZM550.82,950.43L547.27,948.75L546.62,950.74L550.48,951.47Z" fill="#111"/>
<polyline points="494.5,1084.5 494.5,1076.5 614.5,1076.5 614.5,1084.5" fill="none" stroke="#444" stroke-width="1.25"/>
<text transform="translate(456.68,1103.9) scale(1.0502,1)" font-size="15.3" font-weight="normal" fill="#151515">Congruent</text>
<text transform="translate(570.99,1103.9) scale(1.0670,1)" font-size="15.3" font-weight="normal" fill="#151515">Incongruent</text>
<text transform="translate(513.72,1131.8) scale(1.0808,1)" font-size="17.9" font-weight="normal" fill="#151515">Condition</text>
<text transform="translate(367.7,1057.75) rotate(-90) scale(1.0554,1)" font-size="17.8" fill="#151515"><tspan>Social influence</tspan></text>
</svg>
</body></html>
